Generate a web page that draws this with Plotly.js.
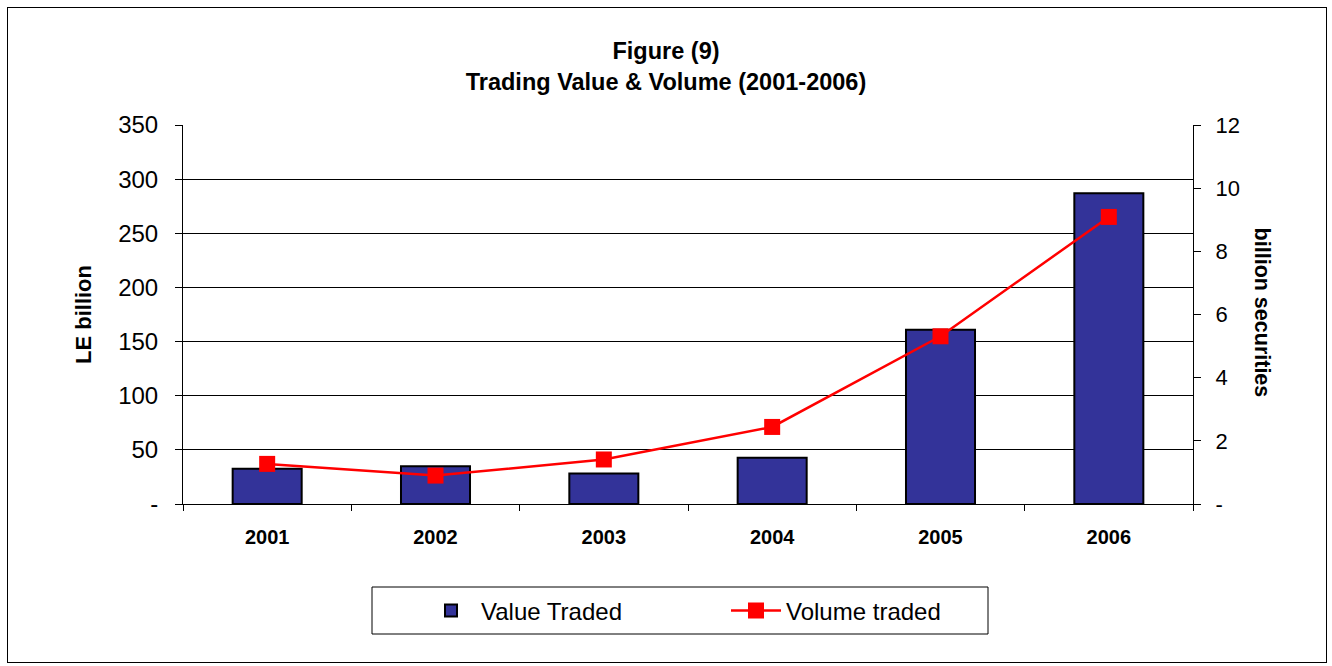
<!DOCTYPE html>
<html>
<head>
<meta charset="utf-8">
<script src="https://cdn.plot.ly/plotly-3.0.1.min.js"></script>
<style>
  html, body { margin: 0; padding: 0; background: #fff; }
  #wrap { position: relative; width: 1332px; height: 666px; }
  #chart { width: 1332px; height: 666px; }
  #frame { position: absolute; left: 7px; top: 7px; width: 1318px; height: 654px;
           border: 1px solid #000; pointer-events: none; }
</style>
</head>
<body>
<div id="wrap">
  <div id="chart"></div>
  <div id="frame"></div>
</div>
<script>
// Data
const years = ['2001', '2002', '2003', '2004', '2005', '2006'];
const valueTraded = [32.5, 34.9, 28.1, 42.6, 161, 287];      // LE billion
const volumeTraded = [1.27, 0.90, 1.41, 2.44, 5.31, 9.09];   // billion securities

const leftTicks = [0, 50, 100, 150, 200, 250, 300, 350];
const leftTickText = ['-', '50', '100', '150', '200', '250', '300', '350'];
const rightTicks = [0, 2, 4, 6, 8, 10, 12];
const rightTickText = ['-', '2', '4', '6', '8', '10', '12'];

const FONT = 'Arial, "Liberation Sans", sans-serif';

const traces = [
  {
    type: 'bar',
    name: 'Value Traded',
    x: years,
    y: valueTraded,
    marker: { color: '#333399', line: { color: '#000000', width: 2 } },
    yaxis: 'y'
  },
  {
    type: 'scatter',
    mode: 'lines+markers',
    name: 'Volume traded',
    x: years,
    y: volumeTraded,
    yaxis: 'y2',
    line: { color: '#FF0000', width: 2.5 },
    marker: { color: '#FF0000', symbol: 'square', size: 16 }
  }
];

const layout = {
  width: 1332,
  height: 666,
  paper_bgcolor: '#ffffff',
  plot_bgcolor: '#ffffff',
  font: { family: FONT, color: '#000000' },
  margin: { l: 183, r: 139, t: 125, b: 162, pad: 0 },
  title: {
    text: '<b>Figure (9)<br>Trading Value & Volume (2001-2006)</b>',
    font: { family: FONT, size: 23.5, color: '#000' },
    x: 0.5, xref: 'container', xanchor: 'center',
    y: 1 - 59 / 666, yref: 'container', yanchor: 'top'
  },
  bargap: 0.59,
  showlegend: true,
  legend: {
    orientation: 'h',
    x: (421 - 183) / 1010, xanchor: 'left',
    y: (504 - 611) / 379, yanchor: 'middle',
    bgcolor: 'rgba(0,0,0,0)',
    borderwidth: 0,
    font: { family: FONT, size: 24, color: '#000' },
    entrywidth: 240,
    itemwidth: 50
  },
  xaxis: {
    type: 'category',
    tickson: 'boundaries',
    ticks: 'outside', ticklen: 6, tickcolor: '#000', tickwidth: 1,
    showline: true, linecolor: '#000', linewidth: 1,
    showgrid: false,
    tickfont: { family: FONT, size: 20, color: '#000', weight: 'bold' },
    ticklabelstandoff: 15
  },
  yaxis: {
    range: [0, 350],
    tickmode: 'array', tickvals: leftTicks, ticktext: leftTickText,
    ticks: 'outside', ticklen: 7, tickcolor: '#000', tickwidth: 1,
    showline: true, linecolor: '#000', linewidth: 1,
    showgrid: true, gridcolor: '#000', gridwidth: 1,
    zeroline: false,
    tickfont: { family: FONT, size: 24, color: '#000' },
    ticklabelstandoff: 12,
    title: { text: '<b>LE billion</b>', font: { family: FONT, size: 22, color: '#000' }, standoff: 20 }
  },
  yaxis2: {
    overlaying: 'y', side: 'right',
    range: [0, 12],
    tickmode: 'array', tickvals: rightTicks, ticktext: rightTickText,
    ticks: 'outside', ticklen: 7, tickcolor: '#000', tickwidth: 1,
    showline: true, linecolor: '#000', linewidth: 1,
    showgrid: false, zeroline: false,
    tickfont: { family: FONT, size: 22, color: '#000' },
    ticklabelstandoff: 10
  },
  yaxis3: {
    overlaying: 'y', side: 'right', anchor: 'x',
    range: [0, 12],
    tickmode: 'array', tickvals: rightTicks,
    ticks: 'inside', ticklen: 7, tickcolor: '#000', tickwidth: 1,
    showticklabels: false, showline: false, showgrid: false, zeroline: false
  },
  shapes: [
    {
      type: 'rect', xref: 'paper', yref: 'paper',
      x0: (372 - 183) / 1010, x1: (988 - 183) / 1010,
      y0: (504 - 634) / 379, y1: (504 - 587) / 379,
      line: { color: '#000', width: 1 }, fillcolor: 'rgba(0,0,0,0)'
    }
  ],
  annotations: [
    {
      text: '<b>billion securities</b>',
      xref: 'paper', yref: 'paper',
      x: (1262 - 183) / 1010, y: 0.505,
      xanchor: 'center', yanchor: 'middle',
      textangle: 90, showarrow: false,
      font: { family: FONT, size: 21.5, color: '#000' }
    }
  ]
};

Plotly.newPlot('chart', traces, layout, { displayModeBar: false, staticPlot: true });
</script>
</body>
</html>
